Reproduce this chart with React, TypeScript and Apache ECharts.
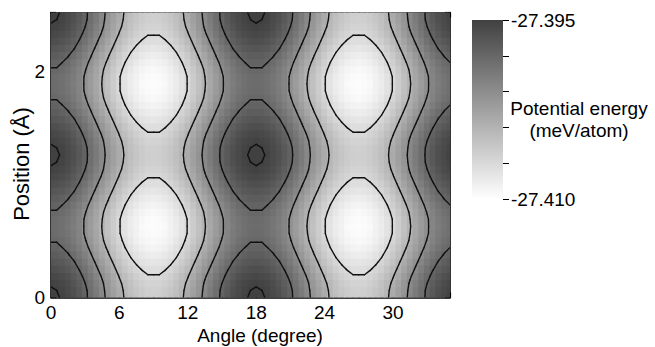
import React, { useEffect, useRef } from "react";
import * as echarts from "echarts";

const FONT = "'Liberation Sans', Arial, Helvetica, sans-serif";

// Sample grid of the energy map
const angles = [
  0, 0.5, 1, 1.5, 2, 2.5, 3, 3.5, 4, 4.5, 5, 5.5, 6, 6.5, 7, 7.5, 8, 8.5, 9, 9.5,
  10, 10.5, 11, 11.5, 12, 12.5, 13, 13.5, 14, 14.5, 15, 15.5, 16, 16.5, 17, 17.5,
  18, 18.5, 19, 19.5, 20, 20.5, 21, 21.5, 22, 22.5, 23, 23.5, 24, 24.5, 25, 25.5,
  26, 26.5, 27, 27.5, 28, 28.5, 29, 29.5, 30, 30.5, 31, 31.5, 32, 32.5, 33, 33.5,
  34, 34.5, 35,
];
const positions = [
  0, 0.063, 0.126, 0.189, 0.252, 0.315, 0.378, 0.441, 0.504, 0.567, 0.63, 0.693,
  0.756, 0.819, 0.882, 0.945, 1.008, 1.071, 1.134, 1.197, 1.26, 1.323, 1.386, 1.449,
  1.512, 1.575, 1.638, 1.701, 1.764, 1.827, 1.89, 1.953, 2.016, 2.079, 2.142, 2.205,
  2.268, 2.331, 2.394, 2.457, 2.52,
];

// Energies stored as offsets in 1e-4 meV/atom above ENERGY_ZERO
const ENERGY_ZERO = -27.41;
const ENERGY_UNIT = 0.0001;

// Rows of the map, from a dark row (position 0) to a bright row (position 0.63)
const energyProfile0 = [
  152, 151, 149, 144, 139, 132, 124, 114, 105, 95, 85, 76, 67, 58, 51, 46, 41, 39, 38, 39, 41, 46, 51, 58, 67, 76, 85, 95, 105, 114, 124, 132, 139, 144, 149, 151,
  152, 151, 149, 144, 139, 132, 124, 114, 105, 95, 85, 76, 67, 58, 51, 46, 41, 39, 38, 39, 41, 46, 51, 58, 67, 76, 85, 95, 105, 114, 124, 132, 139, 144, 149,
];
const energyProfile1 = [
  151, 150, 148, 143, 138, 131, 123, 114, 104, 94, 84, 75, 66, 57, 50, 45, 41, 38, 37, 38, 41, 45, 50, 57, 66, 75, 84, 94, 104, 114, 123, 131, 138, 143, 148, 150,
  151, 150, 148, 143, 138, 131, 123, 114, 104, 94, 84, 75, 66, 57, 50, 45, 41, 38, 37, 38, 41, 45, 50, 57, 66, 75, 84, 94, 104, 114, 123, 131, 138, 143, 148,
];
const energyProfile2 = [
  149, 148, 145, 141, 135, 128, 120, 111, 101, 92, 82, 72, 63, 55, 48, 42, 38, 35, 35, 35, 38, 42, 48, 55, 63, 72, 82, 92, 101, 111, 120, 128, 135, 141, 145, 148,
  149, 148, 145, 141, 135, 128, 120, 111, 101, 92, 82, 72, 63, 55, 48, 42, 38, 35, 35, 35, 38, 42, 48, 55, 63, 72, 82, 92, 101, 111, 120, 128, 135, 141, 145,
];
const energyProfile3 = [
  145, 144, 141, 137, 131, 124, 116, 107, 97, 88, 78, 68, 59, 51, 44, 38, 34, 31, 31, 31, 34, 38, 44, 51, 59, 68, 78, 88, 97, 107, 116, 124, 131, 137, 141, 144,
  145, 144, 141, 137, 131, 124, 116, 107, 97, 88, 78, 68, 59, 51, 44, 38, 34, 31, 31, 31, 34, 38, 44, 51, 59, 68, 78, 88, 97, 107, 116, 124, 131, 137, 141,
];
const energyProfile4 = [
  140, 139, 136, 132, 126, 119, 111, 102, 92, 83, 73, 63, 54, 46, 39, 33, 29, 26, 26, 26, 29, 33, 39, 46, 54, 63, 73, 83, 92, 102, 111, 119, 126, 132, 136, 139,
  140, 139, 136, 132, 126, 119, 111, 102, 92, 83, 73, 63, 54, 46, 39, 33, 29, 26, 26, 26, 29, 33, 39, 46, 54, 63, 73, 83, 92, 102, 111, 119, 126, 132, 136,
];
const energyProfile5 = [
  134, 133, 131, 126, 121, 114, 106, 96, 87, 77, 67, 58, 48, 40, 33, 28, 23, 21, 20, 21, 23, 28, 33, 40, 48, 58, 67, 77, 87, 96, 106, 114, 121, 126, 131, 133,
  134, 133, 131, 126, 121, 114, 106, 96, 87, 77, 67, 58, 48, 40, 33, 28, 23, 21, 20, 21, 23, 28, 33, 40, 48, 58, 67, 77, 87, 96, 106, 114, 121, 126, 131,
];
const energyProfile6 = [
  128, 128, 125, 121, 115, 108, 100, 91, 81, 71, 62, 52, 43, 35, 28, 22, 18, 15, 14, 15, 18, 22, 28, 35, 43, 52, 62, 71, 81, 91, 100, 108, 115, 121, 125, 128,
  128, 128, 125, 121, 115, 108, 100, 91, 81, 71, 62, 52, 43, 35, 28, 22, 18, 15, 14, 15, 18, 22, 28, 35, 43, 52, 62, 71, 81, 91, 100, 108, 115, 121, 125,
];
const energyProfile7 = [
  123, 123, 120, 116, 110, 103, 95, 86, 76, 66, 57, 47, 38, 30, 23, 17, 13, 10, 9, 10, 13, 17, 23, 30, 38, 47, 57, 66, 76, 86, 95, 103, 110, 116, 120, 123,
  123, 123, 120, 116, 110, 103, 95, 86, 76, 66, 57, 47, 38, 30, 23, 17, 13, 10, 9, 10, 13, 17, 23, 30, 38, 47, 57, 66, 76, 86, 95, 103, 110, 116, 120,
];
const energyProfile8 = [
  119, 119, 116, 112, 106, 99, 91, 82, 72, 62, 53, 43, 34, 26, 19, 13, 9, 6, 5, 6, 9, 13, 19, 26, 34, 43, 53, 62, 72, 82, 91, 99, 106, 112, 116, 119,
  119, 119, 116, 112, 106, 99, 91, 82, 72, 62, 53, 43, 34, 26, 19, 13, 9, 6, 5, 6, 9, 13, 19, 26, 34, 43, 53, 62, 72, 82, 91, 99, 106, 112, 116,
];
const energyProfile9 = [
  117, 116, 113, 109, 104, 97, 88, 79, 70, 60, 50, 40, 31, 23, 16, 11, 6, 4, 3, 4, 6, 11, 16, 23, 31, 40, 50, 60, 70, 79, 88, 97, 104, 109, 113, 116,
  117, 116, 113, 109, 104, 97, 88, 79, 70, 60, 50, 40, 31, 23, 16, 11, 6, 4, 3, 4, 6, 11, 16, 23, 31, 40, 50, 60, 70, 79, 88, 97, 104, 109, 113,
];
const energyProfile10 = [
  116, 115, 113, 108, 103, 96, 88, 78, 69, 59, 49, 40, 31, 22, 15, 10, 5, 3, 2, 3, 5, 10, 15, 22, 31, 40, 49, 59, 69, 78, 88, 96, 103, 108, 113, 115,
  116, 115, 113, 108, 103, 96, 88, 78, 69, 59, 49, 40, 31, 22, 15, 10, 5, 3, 2, 3, 5, 10, 15, 22, 31, 40, 49, 59, 69, 78, 88, 96, 103, 108, 113,
];
// one row per entry of positions (bottom to top)
const energyRows = [
  energyProfile0, energyProfile1, energyProfile2, energyProfile3, energyProfile4, energyProfile5,
  energyProfile6, energyProfile7, energyProfile8, energyProfile9, energyProfile10, energyProfile9,
  energyProfile8, energyProfile7, energyProfile6, energyProfile5, energyProfile4, energyProfile3,
  energyProfile2, energyProfile1, energyProfile0, energyProfile1, energyProfile2, energyProfile3,
  energyProfile4, energyProfile5, energyProfile6, energyProfile7, energyProfile8, energyProfile9,
  energyProfile10, energyProfile9, energyProfile8, energyProfile7, energyProfile6, energyProfile5,
  energyProfile4, energyProfile3, energyProfile2, energyProfile1, energyProfile0,
];

const contourLevels = [-27.407, -27.404, -27.401, -27.398, -27.395];
const colorRange = [-27.41, -27.395];
const xTickLabels = ["0", "6", "12", "18", "24", "30"];
const yTickLabels = ["0", "2"];
const colorbarTickLabels = ["-27.410", "", "", "", "", "-27.395"];

const LIGHT = "#ffffff";
const DARK = "#414141";

function contourSegments(grid: number[][], level: number): number[][] {
  const segs: number[][] = [];
  for (let j = 0; j < positions.length - 1; j++) {
    for (let i = 0; i < angles.length - 1; i++) {
      const xa = angles[i], xb = angles[i + 1];
      const ya = positions[j], yb = positions[j + 1];
      const v00 = grid[j][i], v10 = grid[j][i + 1];
      const v11 = grid[j + 1][i + 1], v01 = grid[j + 1][i];
      const cut = (va: number, vb: number, x1: number, y1: number, x2: number, y2: number) => {
        if ((va < level) !== (vb < level)) {
          const t = (level - va) / (vb - va);
          return [x1 + t * (x2 - x1), y1 + t * (y2 - y1)];
        }
        return null;
      };
      const e0 = cut(v00, v10, xa, ya, xb, ya);
      const e1 = cut(v10, v11, xb, ya, xb, yb);
      const e2 = cut(v11, v01, xb, yb, xa, yb);
      const e3 = cut(v01, v00, xa, yb, xa, ya);
      const pts = [e0, e1, e2, e3].filter((p) => p) as number[][];
      if (pts.length === 2) {
        segs.push([pts[0][0], pts[0][1], pts[1][0], pts[1][1]]);
      } else if (pts.length === 4) {
        const c = (v00 + v10 + v11 + v01) / 4;
        if ((c < level) === (v00 < level)) {
          segs.push([e0![0], e0![1], e1![0], e1![1]]);
          segs.push([e2![0], e2![1], e3![0], e3![1]]);
        } else {
          segs.push([e0![0], e0![1], e3![0], e3![1]]);
          segs.push([e1![0], e1![1], e2![0], e2![1]]);
        }
      }
    }
  }
  return segs;
}

function buildOption() {
  const energyGrid = energyRows.map((row) =>
    row.map((o) => +(ENERGY_ZERO + o * ENERGY_UNIT).toFixed(4))
  );
  const heatData: number[][] = [];
  positions.forEach((p, j) =>
    angles.forEach((a, i) => heatData.push([a, p, energyGrid[j][i]]))
  );
  const cellW = angles[1] - angles[0];
  const cellH = positions[1] - positions[0];
  const contours = contourLevels.map((l) => contourSegments(energyGrid, l));

  const tickStyle = { color: "#000", width: 1.2 };
  const lineStyle = { color: "#000", width: 1.6 };
  const labelBase = { color: "#000", fontSize: 19, fontFamily: FONT };

  return {
    animation: false,
    backgroundColor: "#fff",
    textStyle: { fontFamily: FONT },
    grid: [
      { left: 51, top: 12.5, width: 399, height: 285, containLabel: false, outerBoundsMode: "none" },
      { left: 472, top: 20, width: 31, height: 179, containLabel: false, outerBoundsMode: "none" },
    ],
    xAxis: [
      {
        type: "value", gridIndex: 0, position: "bottom",
        min: 0, max: 35, interval: 3,
        axisLine: { show: true, onZero: false, lineStyle },
        axisTick: { show: true, inside: true, length: 5, lineStyle: tickStyle },
        splitLine: { show: false },
        axisLabel: {
          ...labelBase, margin: 5,
          formatter: (v: number) => (xTickLabels.includes(String(v)) ? String(v) : ""),
        },
        name: "Angle (degree)", nameLocation: "middle", nameGap: 28, nameMoveOverlap: false,
        nameTextStyle: { ...labelBase, padding: [0, 0, 0, 19] },
      },
      {
        type: "value", gridIndex: 0, position: "top",
        min: 0, max: 35, interval: 3,
        axisLine: { show: true, onZero: false, lineStyle },
        axisTick: { show: true, inside: true, length: 5, lineStyle: tickStyle },
        splitLine: { show: false },
        axisLabel: { show: false },
      },
      { type: "value", gridIndex: 1, min: 0, max: 1, show: false },
    ],
    yAxis: [
      {
        type: "value", gridIndex: 0, position: "left",
        min: 0, max: 2.52, interval: 1,
        axisLine: { show: true, onZero: false, lineStyle },
        axisTick: { show: true, inside: true, length: 5, lineStyle: tickStyle },
        splitLine: { show: false },
        axisLabel: {
          ...labelBase, margin: 6,
          formatter: (v: number) => (yTickLabels.includes(String(v)) ? String(v) : ""),
        },
        name: "Position (Å)", nameLocation: "middle", nameGap: 19, nameMoveOverlap: false,
        nameTextStyle: { ...labelBase, fontSize: 22, padding: [0, 18, 0, 0] },
      },
      {
        type: "value", gridIndex: 0, position: "right",
        min: 0, max: 2.52, interval: 1,
        axisLine: { show: true, onZero: false, lineStyle },
        axisTick: { show: true, inside: true, length: 5, lineStyle: tickStyle },
        splitLine: { show: false },
        axisLabel: { show: false },
      },
      {
        type: "value", gridIndex: 1, position: "right",
        min: 0, max: 5, interval: 1,
        axisLine: { show: true, onZero: false, lineStyle: { color: "rgba(0,0,0,0)" } },
        axisTick: { show: true, inside: false, length: 6, lineStyle: { color: "#000", width: 1 } },
        splitLine: { show: false },
        axisLabel: {
          ...labelBase, margin: 8,
          formatter: (v: number) => colorbarTickLabels[Math.round(v)] ?? "",
        },
      },
    ],
    visualMap: {
      type: "continuous",
      show: false,
      min: colorRange[0],
      max: colorRange[1],
      dimension: 2,
      seriesIndex: 0,
      inRange: { color: [LIGHT, DARK] },
    },
    graphic: [
      {
        type: "text",
        x: 579, y: 119, z: 2,
        style: {
          text: "Potential energy\n(meV/atom)",
          fill: "#000",
          fontSize: 19,
          fontFamily: FONT,
          lineHeight: 22,
          align: "center",
          verticalAlign: "middle",
          textAlign: "center",
          textVerticalAlign: "middle",
        },
        silent: true,
      },
    ],
    series: [
      {
        type: "custom",
        xAxisIndex: 0, yAxisIndex: 0,
        data: heatData,
        dimensions: ["angle", "position", "energy"],
        encode: { x: 0, y: 1 },
        clip: true, silent: true, z: 1,
        renderItem: (params: any, api: any) => {
          const c = api.coord([api.value(0), api.value(1)]);
          const s = api.size([cellW, cellH]);
          return {
            type: "rect",
            shape: { x: c[0] - s[0] / 2 - 0.4, y: c[1] - s[1] / 2 - 0.4, width: s[0] + 0.8, height: s[1] + 0.8 },
            style: { fill: api.visual("color") },
          };
        },
      },
      {
        type: "custom",
        xAxisIndex: 0, yAxisIndex: 0,
        data: contourLevels.map((l) => [0, 0, l]),
        encode: { x: 0, y: 1 },
        clip: true, silent: true, z: 3,
        renderItem: (params: any, api: any) => {
          const segs = contours[params.dataIndex];
          return {
            type: "group",
            children: segs.map((sg) => {
              const a = api.coord([sg[0], sg[1]]);
              const b = api.coord([sg[2], sg[3]]);
              return {
                type: "line",
                shape: { x1: a[0], y1: a[1], x2: b[0], y2: b[1] },
                style: { stroke: "#111", lineWidth: 1.4, lineCap: "round" },
              };
            }),
          };
        },
      },
      {
        type: "custom",
        xAxisIndex: 2, yAxisIndex: 2,
        data: [[0, 0]],
        encode: { x: 0, y: 1 },
        silent: true, z: 1,
        renderItem: (params: any, api: any) => {
          const tl = api.coord([0, 5]);
          const br = api.coord([1, 0]);
          return {
            type: "rect",
            shape: { x: tl[0], y: tl[1], width: br[0] - tl[0], height: br[1] - tl[1] },
            style: {
              fill: new echarts.graphic.LinearGradient(0, 0, 0, 1, [
                { offset: 0, color: DARK },
                { offset: 1, color: LIGHT },
              ]),
            },
          };
        },
      },
    ],
  };
}

export default function App() {
  const ref = useRef<HTMLDivElement>(null);
  useEffect(() => {
    if (!ref.current) return;
    const chart = echarts.init(ref.current, null, { renderer: "svg" });
    chart.setOption(buildOption() as any);
    return () => chart.dispose();
  }, []);
  return (
    <div
      ref={ref}
      style={{ position: "fixed", left: 0, top: 0, width: 655, height: 347, background: "#fff" }}
    />
  );
}
